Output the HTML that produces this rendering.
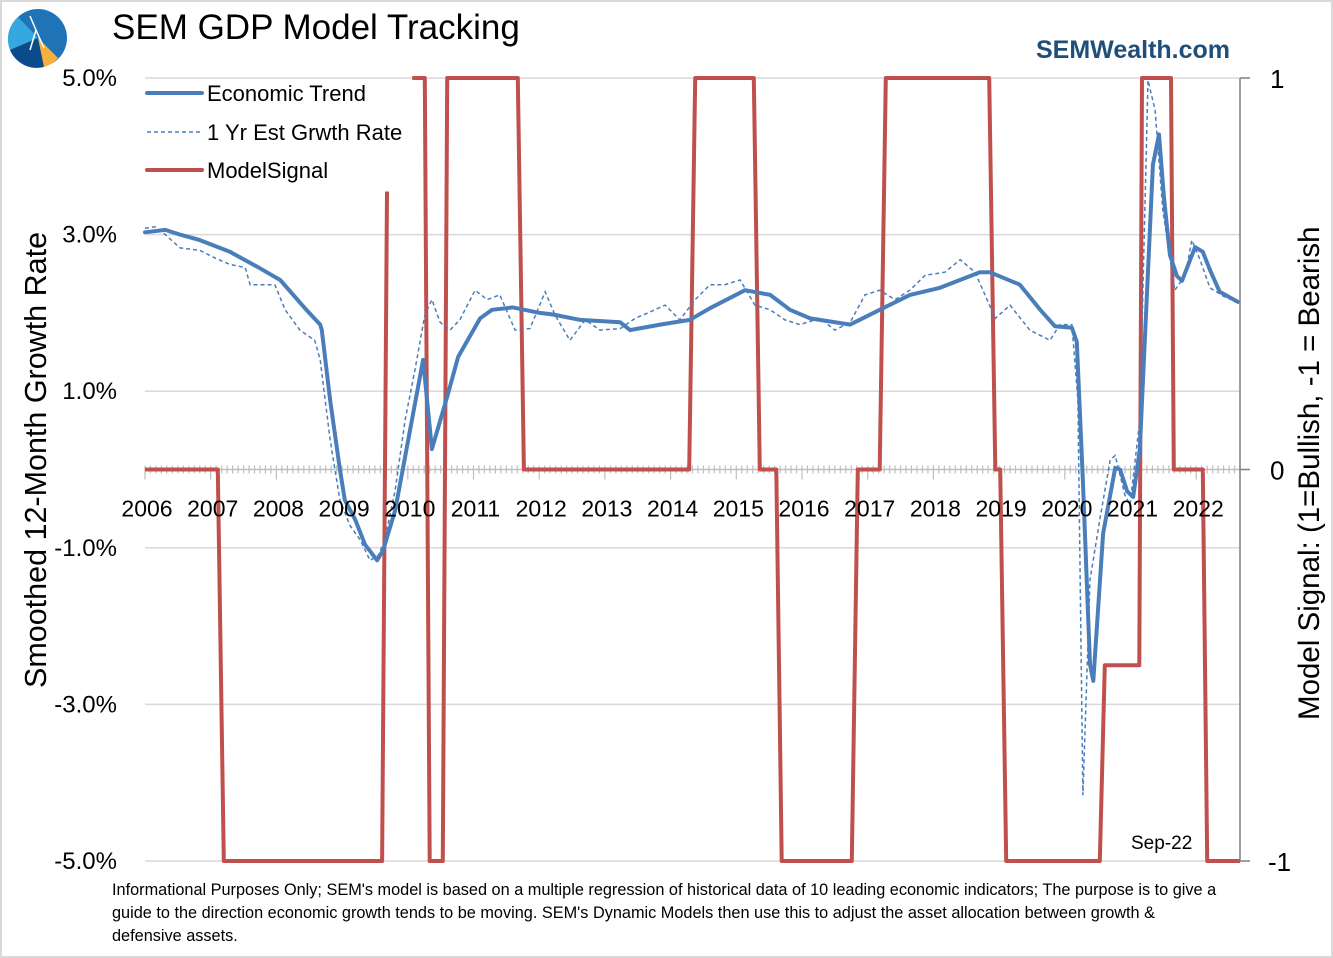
<!DOCTYPE html>
<html><head><meta charset="utf-8">
<style>
html,body{margin:0;padding:0;background:#fff;}
body{width:1333px;height:958px;overflow:hidden;position:relative;font-family:"Liberation Sans",sans-serif;}
#frame{position:absolute;left:0;top:0;width:1329px;height:954px;border:2px solid #d9d9d9;}
.t{position:absolute;white-space:nowrap;}
</style></head>
<body>
<div id="frame"></div>
<svg width="1333" height="958" style="position:absolute;left:0;top:0">
  <g>
    <circle cx="38" cy="38" r="29" fill="#1f73b7"/>
    <path d="M38 38 L18 17 A29 29 0 0 0 10 50 Z" fill="#35a8e0"/>
    <path d="M38 38 L10 50 A29 29 0 0 0 44 67 Z" fill="#0b4a8b"/>
    <path d="M38 38 L44 67 A29 29 0 0 0 58 58 Z" fill="#f8b03c"/>
    <path d="M30 16 L36 30 L30 50 M36 30 L44 48" stroke="#fff" stroke-width="1.5" fill="none"/>
  </g>
  <g id="grid"></g>
  <g id="axes"></g>
  <g id="series"></g>
  <g id="labels"></g>
  <g>
    <line x1="147" y1="93" x2="202" y2="93" stroke="#4a7ebb" stroke-width="4" stroke-linecap="round"/>
    <text x="207" y="101" font-size="22" fill="#000">Economic Trend</text>
    <line x1="147" y1="132" x2="202" y2="132" stroke="#4a7ebb" stroke-width="1.5" stroke-dasharray="4,3"/>
    <text x="207" y="140" font-size="22" fill="#000">1 Yr Est Grwth Rate</text>
    <line x1="147" y1="170" x2="202" y2="170" stroke="#c0504d" stroke-width="4" stroke-linecap="round"/>
    <text x="207" y="178" font-size="22" fill="#000">ModelSignal</text>
  </g>
</svg>
<div class="t" style="left:112px;top:8px;font-size:35px;color:#000">SEM GDP Model Tracking</div>
<div class="t" style="left:1036px;top:36px;font-size:25px;font-weight:bold;color:#1f4e79">SEMWealth.com</div>
<div class="t" style="left:1131px;top:833px;font-size:19px;color:#000">Sep-22</div>
<div class="t" style="left:19px;top:688px;font-size:30.5px;transform-origin:0 0;transform:rotate(-90deg);">Smoothed 12-Month Growth Rate</div>
<div class="t" style="left:1293px;top:720px;font-size:29.5px;transform-origin:0 0;transform:rotate(-90deg);">Model Signal: (1=Bullish, -1 = Bearish</div>
<div class="t" style="left:112px;top:879px;font-size:16.3px;line-height:23px;color:#000">Informational Purposes Only; SEM's model is based on a multiple regression of historical data of 10 leading economic indicators; The purpose is to give a<br>guide to the direction economic growth tends to be moving. SEM's Dynamic Models then use this to adjust the asset allocation between growth &amp;<br>defensive assets.</div>
<script>
const yTickValues=[5,3,1,-1,-3,-5];
const yTickLabels=["5.0%","3.0%","1.0%","-1.0%","-3.0%","-5.0%"];
const y2TickValues=[1,0,-1];
const y2TickLabels=["1","0","-1"];
const yearLabels=["2006","2007","2008","2009","2010","2011","2012","2013","2014","2015","2016","2017","2018","2019","2020","2021","2022"];
const trendMonths=[0,3.7,6.4,10,15.5,21,24.7,29.2,32,32.3,33.8,35.6,36.5,38.4,40.2,42.4,43.5,45.7,48.4,50.8,52.4,55.2,57.2,61.2,63.4,67.2,72.1,74.5,79.5,86.8,88.6,94.1,99.5,103.2,109.6,114.2,117.8,121.5,128.8,134.2,139.7,145.2,152.5,154.3,159.8,163.5,166.2,169.3,170.2,171.3,172.6,173.2,175,177.2,178.1,179.4,180.5,181.7,184.1,185.2,186.1,187.2,188.5,189.4,191.8,193.2,194.5,196.3,197.6,199.6];
const trendValues=[3.03,3.06,3.0,2.93,2.78,2.57,2.42,2.06,1.85,1.78,0.89,0,-0.39,-0.64,-0.96,-1.16,-1.03,-0.52,0.5,1.4,0.26,0.93,1.44,1.93,2.04,2.07,2.0,1.98,1.91,1.88,1.78,1.85,1.91,2.06,2.29,2.23,2.04,1.93,1.85,2.04,2.23,2.32,2.52,2.52,2.36,2.04,1.83,1.81,1.63,-0.15,-2.49,-2.7,-0.82,0.02,0,-0.28,-0.35,0.26,3.89,4.28,3.48,2.74,2.47,2.41,2.84,2.78,2.55,2.27,2.22,2.14];
const estMonths=[0,1.8,3.7,6.4,10,12.8,15.5,18.3,19.2,23.7,25.6,28.3,31,32,33.8,35.6,37.4,39.3,41.1,42.6,43.8,45.7,47.5,49.3,51.1,52.4,53.9,55.7,57.5,60.3,62.5,64.8,67.6,70.3,73.1,74.9,77.6,80.4,83.1,86.8,89.5,92.2,95,97.7,100.5,103.2,105.9,108.7,111.4,114.2,116.9,119.6,123.3,126,128.8,131.5,134.2,137,139.7,142.5,146.1,148.9,151.6,155.3,158,161.6,165.3,167.1,169.3,170.4,171.3,172.6,174.4,176.3,177.2,179,179.9,181.7,183.2,184.5,185.9,188.1,190,191.2,192.7,194.5,197.3,199.6];
const estValues=[3.08,3.1,3.0,2.83,2.8,2.7,2.62,2.58,2.36,2.36,2.04,1.78,1.65,1.4,0.38,-0.39,-0.71,-0.9,-1.16,-1.1,-0.9,-0.26,0.63,1.27,1.97,2.17,1.88,1.78,1.91,2.29,2.17,2.23,1.78,1.8,2.27,1.97,1.65,1.91,1.78,1.8,1.93,2.01,2.1,1.91,2.17,2.36,2.36,2.42,2.1,2.04,1.91,1.85,1.93,1.78,1.88,2.23,2.29,2.17,2.29,2.48,2.52,2.68,2.52,1.93,2.1,1.78,1.65,1.85,1.85,0.89,-4.16,-1.41,-0.64,0.12,0.18,-0.33,-0.45,0.63,4.97,4.59,3.31,2.29,2.48,2.93,2.68,2.32,2.2,2.14];
const signalMonths=[0,13.3,14.4,43.3,44.2,null,48.8,51.1,52,54.4,55.2,68.1,69.2,99.4,100.5,111.2,112.3,115.3,116.3,129.1,130.2,134.2,135.3,154.2,155.3,156.2,157.3,174.4,175.3,181.6,182.1,187.4,187.9,193.2,194,200];
const signalValues=[0,0,-1,-1,0.71,null,1,1,-1,-1,1,1,0,0,1,1,0,0,-1,-1,0,0,1,1,0,0,-1,-1,-0.5,-0.5,1,1,0,0,-1,-1];

const NS="http://www.w3.org/2000/svg";
const X0=145,X1=1240,Y0=78,Y1=861;
const xm=m=>X0+m*(X1-X0)/200;
const yl=v=>Y0+(5-v)*(Y1-Y0)/10;
const yr=v=>Y0+(1-v)*(Y1-Y0)/2;
function mk(tag,attrs,parent){const e=document.createElementNS(NS,tag);for(const k in attrs)e.setAttribute(k,attrs[k]);parent.appendChild(e);return e;}
const grid=document.getElementById('grid'),axes=document.getElementById('axes'),series=document.getElementById('series'),labels=document.getElementById('labels');
yTickValues.forEach((v,i)=>{
  const l=mk('line',{x1:X0,x2:X1,y1:yl(v),y2:yl(v),stroke:'#d9d9d9','stroke-width':1.5},grid);
  
  
  const t=mk('text',{x:117,y:yl(v)+8,'text-anchor':'end','font-size':24,fill:'#000'},labels);
  t.textContent=yTickLabels[i];
  
  
});
const zy=yl(0);
const xa=mk('line',{x1:X0,x2:X1,y1:zy,y2:zy,stroke:'#bfbfbf','stroke-width':1.5},axes);


for(let m=0;m<=200;m++){
  const major=m%12===0;
  const tk=mk('line',{x1:xm(m),x2:xm(m),y1:zy-4,y2:zy+(major?10:4),stroke:'#bfbfbf','stroke-width':1.2},axes);
  
  
}
yearLabels.forEach((s,i)=>{
  const t=mk('text',{x:xm(i*12)+2,y:zy+47,'text-anchor':'middle','font-size':23,fill:'#000'},labels);
  t.textContent=s;
  
  
});
const ra=mk('line',{x1:X1,x2:X1,y1:Y0,y2:Y1,stroke:'#808080','stroke-width':1.5},axes);


y2TickValues.forEach((v,i)=>{
  const tk=mk('line',{x1:X1,x2:X1+10,y1:yr(v),y2:yr(v),stroke:'#808080','stroke-width':1.5},axes);
  
  
  const t=mk('text',{x:v<0?1268:1270,y:yr(v)+10,'font-size':26,fill:'#000'},labels);
  t.textContent=y2TickLabels[i];
  
  
});
function pathFrom(ms,vs,yf){let d='',pen=false;for(let i=0;i<ms.length;i++){if(ms[i]===null){pen=false;continue;}d+=(pen?'L':'M')+xm(ms[i]).toFixed(1)+' '+yf(vs[i]).toFixed(1)+' ';pen=true;}return d;}
const sig=mk('path',{d:pathFrom(signalMonths,signalValues,yr),fill:'none',stroke:'#c0504d','stroke-width':4,'stroke-linejoin':'round'},series);


const est=mk('path',{d:pathFrom(estMonths,estValues,yl),fill:'none',stroke:'#4a7ebb','stroke-width':1.5,'stroke-dasharray':'4,3'},series);


const tr=mk('path',{d:pathFrom(trendMonths,trendValues,yl),fill:'none',stroke:'#4a7ebb','stroke-width':4,'stroke-linejoin':'round','stroke-linecap':'round'},series);


</script>
</body></html>
